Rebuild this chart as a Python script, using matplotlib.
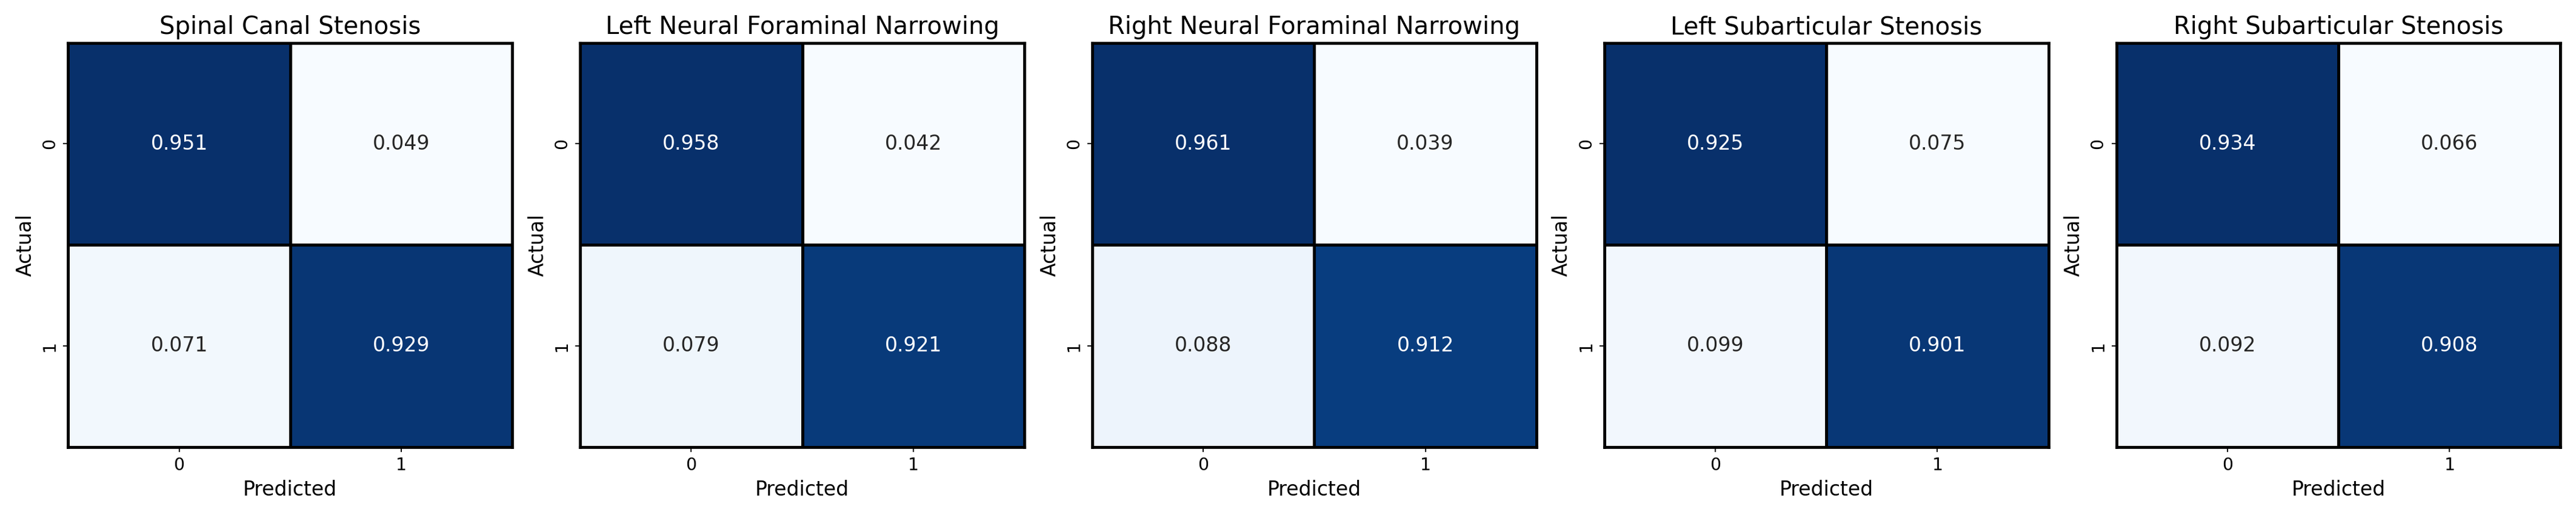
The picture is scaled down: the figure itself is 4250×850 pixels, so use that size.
import numpy as np
import matplotlib
matplotlib.use("Agg")
import matplotlib.pyplot as plt
import seaborn as sns

titles = ["Spinal Canal Stenosis", "Left Neural Foraminal Narrowing",
          "Right Neural Foraminal Narrowing", "Left Subarticular Stenosis",
          "Right Subarticular Stenosis"]
mats = [
    [[0.951, 0.049], [0.071, 0.929]],
    [[0.958, 0.042], [0.079, 0.921]],
    [[0.961, 0.039], [0.088, 0.912]],
    [[0.925, 0.075], [0.099, 0.901]],
    [[0.934, 0.066], [0.092, 0.908]],
]
labels = ["0", "1"]

fig, axes = plt.subplots(1, 5, figsize=(25, 5), dpi=170)
for ax, t, m in zip(axes, titles, mats):
    sns.heatmap(np.array(m), annot=True, fmt=".3f", cmap="Blues", cbar=False,
                linewidths=2, linecolor="black", ax=ax,
                xticklabels=labels, yticklabels=labels,
                annot_kws={"size": 14})
    for s in ax.spines.values():
        s.set_visible(True)
        s.set_linewidth(2)
        s.set_color("black")
    ax.set_title(t, fontsize=17)
    ax.set_xlabel("Predicted", fontsize=14)
    ax.set_ylabel("Actual", fontsize=14)
    ax.tick_params(labelsize=12)
plt.tight_layout()
fig.savefig("out.png", dpi=170)
